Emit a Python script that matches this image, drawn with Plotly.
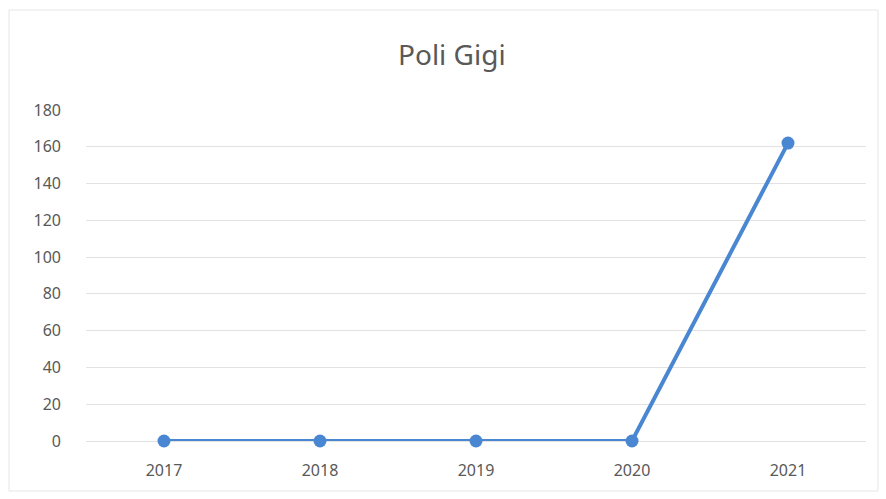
import plotly.graph_objects as go

years = ["2017", "2018", "2019", "2020", "2021"]
values = [0, 0, 0, 0, 162]
y_ticks = [0, 20, 40, 60, 80, 100, 120, 140, 160, 180]

fig = go.Figure()
fig.add_trace(go.Scatter(
    x=years, y=values, mode="lines+markers",
    line=dict(color="#4a87d2", width=4),
    marker=dict(color="#4a87d2", size=13),
    cliponaxis=False,
    showlegend=False,
))

W, H = 886, 499
L, R, T, B = 86, 20, 110, 58
pw, ph = W - L - R, H - T - B

def px(x):
    return (x - L) / pw

def py(y):
    return (H - B - y) / ph

fig.update_layout(
    width=W, height=H,
    margin=dict(l=L, r=R, t=T, b=B),
    paper_bgcolor="white", plot_bgcolor="white",
    font=dict(family="Noto Sans, Open Sans, sans-serif", color="#595959", size=16),
    title=dict(text="Poli Gigi", x=0.51, xanchor="center", y=1 - 55 / H, yanchor="middle",
               font=dict(size=28, color="#595959")),
    xaxis=dict(type="category", range=[-0.5, 4.5], showgrid=False, zeroline=False,
               showline=False, ticks="", ticklabelstandoff=18,
               tickfont=dict(size=16, color="#595959")),
    yaxis=dict(range=[0, 180], tickvals=y_ticks, showgrid=True, gridcolor="#e2e2e2",
               gridwidth=1, zeroline=True, zerolinecolor="#e2e2e2", zerolinewidth=1,
               showline=False, ticks="",
               ticklabelstandoff=24, tickfont=dict(size=16, color="#595959")),
    shapes=[dict(type="rect", xref="paper", yref="paper",
                 x0=px(9), x1=px(878), y0=py(491), y1=py(10),
                 line=dict(color="#e6e6e6", width=1), layer="below")],
)

fig.write_html("out.html")
